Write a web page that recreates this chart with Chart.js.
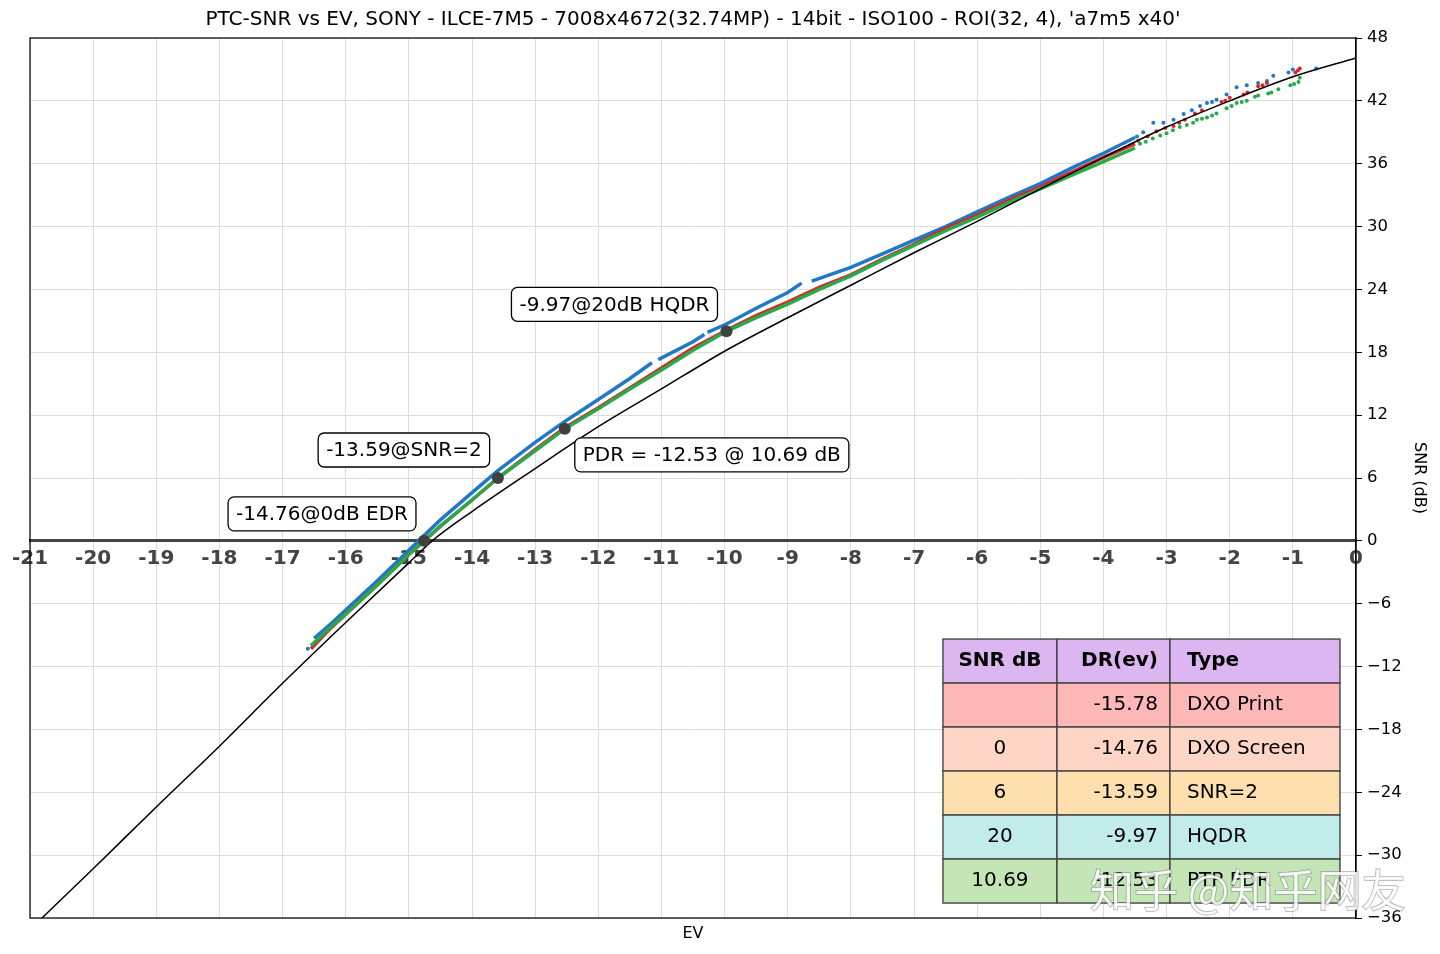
<!DOCTYPE html>
<html>
<head>
<meta charset="utf-8">
<script src="https://cdn.jsdelivr.net/npm/chart.js@4/dist/chart.umd.min.js"></script>
<style>
  html, body { margin: 0; padding: 0; background: #fff; }
  #wrap { width: 1440px; height: 954px; }
</style>
</head>
<body>
<div id="wrap"><canvas id="ptc"></canvas></div>
<script>
// model curve (black)
const modelEv  = [-21, -20, -19, -18, -17, -16, -15, -14.63, -14, -13, -12, -11, -10, -9, -8, -7, -6, -5, -4, -3, -2, -1, 0];
const modelSnr = [-37.1, -31.3, -25.4, -19.6, -13.6, -7.8, -2.1, 0, 2.8, 6.9, 10.9, 14.5, 18.1, 21.3, 24.4, 27.5, 30.5, 33.6, 36.6, 39.5, 42.0, 44.3, 46.1];

// measured channels, dense part
const greenEv  = [-16.55, -16.25, -16, -15.5, -15, -14.76, -14.5, -14, -13.59, -13, -12.53, -12, -11.5, -11, -10.5, -9.97, -9.5, -9, -8.5, -8, -7.5, -7, -6.5, -6, -5.5, -5, -4.5, -4, -3.5];
const greenSnr = [-10.0, -8.3, -7.0, -4.2, -1.3, 0, 1.4, 3.9, 6.0, 8.6, 10.69, 12.6, 14.5, 16.3, 18.2, 20.0, 21.3, 22.6, 24.0, 25.3, 26.8, 28.2, 29.6, 30.9, 32.3, 33.6, 34.9, 36.2, 37.5];
const redSnr   = [-10.3, -8.4, -7.0, -4.2, -1.3, 0, 1.4, 3.9, 6.0, 8.7, 10.8, 12.7, 14.6, 16.5, 18.4, 20.1, 21.5, 22.8, 24.2, 25.4, 26.9, 28.3, 29.8, 31.1, 32.5, 33.8, 35.2, 36.6, 37.9];
const blueEv   = [-16.5, -16.25, -16, -15.5, -15, -14.76, -14.5, -14, -13.59, -13, -12.53, -12, -11.5, -11.15, -11.1, -11.05, -10.5, -10.32, -10.3, -10.27, -9.97, -9.5, -9, -8.78, -8.7, -8.62, -8, -7.5, -7, -6.5, -6, -5.5, -5, -4.5, -4, -3.5];
const blueSnr  = [-9.3, -8.0, -6.6, -3.8, -0.9, 0.5, 2.0, 4.6, 6.7, 9.4, 11.4, 13.5, 15.5, 17.0, null, 17.3, 19.0, 19.7, null, 19.9, 20.7, 22.2, 23.7, 24.6, null, 24.8, 26.1, 27.4, 28.7, 30.0, 31.4, 32.8, 34.1, 35.6, 37.0, 38.5];

// measured channels, sparse dots at the top end
const greenDotEv  = [-3.42, -3.33, -3.22, -3.1, -3.0, -2.9, -2.79, -2.68, -2.58, -2.52, -2.44, -2.36, -2.28, -2.21, -2.05, -1.97, -1.89, -1.81, -1.73, -1.6, -1.55, -1.39, -1.34, -1.23, -1.04, -0.98, -0.91, -0.89];
const greenDotSnr = [37.9, 38.1, 38.4, 38.7, 38.9, 39.2, 39.5, 39.7, 39.9, 40.2, 40.3, 40.4, 40.6, 40.8, 41.3, 41.5, 41.8, 41.9, 42.0, 42.4, 42.5, 42.7, 42.8, 43.1, 43.5, 43.6, 43.8, 44.2];
const redDotEv    = [-3.45, -3.3, -3.16, -3.02, -2.89, -2.8, -2.71, -2.55, -2.44, -2.13, -2.07, -2.0, -1.78, -1.72, -1.55, -1.48, -1.41, -0.96, -0.92, -0.89];
const redDotSnr   = [38.2, 38.6, 39.1, 39.4, 39.6, 39.9, 40.2, 40.8, 41.1, 41.9, 42.0, 42.3, 42.6, 42.8, 43.4, 43.5, 43.7, 44.7, 44.9, 45.1];
const blueDotEv   = [-16.6, -3.47, -3.37, -3.21, -3.05, -2.89, -2.73, -2.6, -2.47, -2.36, -2.28, -2.21, -2.05, -1.89, -1.73, -1.55, -1.41, -1.31, -1.07, -1.0, -0.63];
const blueDotSnr  = [-10.3, 38.6, 39.0, 39.9, 39.9, 40.2, 40.75, 41.1, 41.5, 41.8, 41.9, 42.1, 42.6, 43.3, 43.5, 43.7, 43.9, 44.4, 44.7, 45.0, 45.1];

// marked points
const markerEv     = [-14.76, -13.59, -12.53, -9.97];
const markerSnr    = [0, 6, 10.69, 20];
const markerLabels = ['-14.76@0dB EDR', '-13.59@SNR=2', 'PDR = -12.53 @ 10.69 dB', '-9.97@20dB HQDR'];
const labelOffsets = [[-102, -27], [-94, -28], [147, 26], [-112, -27]];   // px, box centre from point

// table
const tableHead = ['SNR dB', 'DR(ev)', 'Type'];
const tableSnr  = ['', '0', '6', '20', '10.69'];
const tableDr   = ['-15.78', '-14.76', '-13.59', '-9.97', '-12.53'];
const tableType = ['DXO Print', 'DXO Screen', 'SNR=2', 'HQDR', 'PTP PDR'];
const rowColors = ['#dcb6f0', '#ffb8b8', '#ffd6c6', '#fde0ae', '#c2ecea', '#c4e6b6'];

const titleText = "PTC-SNR vs EV, SONY - ILCE-7M5 - 7008x4672(32.74MP) - 14bit - ISO100 - ROI(32, 4), 'a7m5 x40'";

const pts = (xs, ys) => xs.map((x, i) => ({ x: x, y: ys[i] }));

Chart.defaults.font.family = '"DejaVu Sans", sans-serif';
Chart.defaults.color = '#000';

const overlay = {
    id: 'overlay',
    afterDatasetsDraw(chart) {
        const { ctx, chartArea: a, scales: { x, y } } = chart;
        ctx.save();

        // marker annotations
        ctx.font = '20px "DejaVu Sans"';
        ctx.textAlign = 'center';
        ctx.textBaseline = 'middle';
        markerLabels.forEach((t, i) => {
            const cx = x.getPixelForValue(markerEv[i]) + labelOffsets[i][0];
            const cy = y.getPixelForValue(markerSnr[i]) + labelOffsets[i][1];
            const w = ctx.measureText(t).width + 16, h = 34;
            ctx.beginPath();
            ctx.roundRect(cx - w / 2, cy - h / 2, w, h, 6);
            ctx.fillStyle = '#fff';
            ctx.fill();
            ctx.lineWidth = 1.3;
            ctx.strokeStyle = '#000';
            ctx.stroke();
            ctx.fillStyle = '#000';
            ctx.fillText(t, cx, cy + 1);
        });

        // table (matplotlib style, placed in axes fractions)
        const W = a.right - a.left, H = a.bottom - a.top;
        const colX = [0.6885, 0.7745, 0.8597, 0.9879].map(f => a.left + f * W);
        const top = a.top + 0.683 * H, rowH = 0.05 * H;
        const rows = [tableHead].concat(tableDr.map((d, i) => [tableSnr[i], d, tableType[i]]));
        rows.forEach((r, ri) => {
            const ry = top + ri * rowH;
            for (let c = 0; c < 3; c++) {
                ctx.fillStyle = rowColors[ri];
                ctx.fillRect(colX[c], ry, colX[c + 1] - colX[c], rowH);
                ctx.strokeStyle = '#444';
                ctx.lineWidth = 1.4;
                ctx.strokeRect(colX[c], ry, colX[c + 1] - colX[c], rowH);
            }
            ctx.fillStyle = '#000';
            ctx.font = (ri === 0 ? 'bold ' : '') + '20px "DejaVu Sans"';
            ctx.textBaseline = 'middle';
            const my = ry + rowH / 2;
            ctx.textAlign = 'center';
            ctx.fillText(r[0], (colX[0] + colX[1]) / 2, my);
            ctx.textAlign = 'right';
            ctx.fillText(r[1], colX[2] - 12, my);
            ctx.textAlign = 'left';
            ctx.fillText(r[2], colX[2] + 17, my);
        });

        // frame
        ctx.strokeStyle = '#000';
        ctx.lineWidth = 1.2;
        ctx.strokeRect(a.left, a.top, W, H);
        ctx.restore();
    },
    afterDraw(chart) {
        // site watermark
        const { ctx } = chart;
        ctx.save();
        ctx.font = '44px "Noto Sans CJK SC"';
        ctx.textAlign = 'left';
        ctx.textBaseline = 'middle';
        ctx.lineWidth = 1.5;
        ctx.strokeStyle = 'rgba(110,110,110,0.55)';
        ctx.strokeText('知乎 @知乎网友', 1090, 890);
        ctx.fillStyle = 'rgba(255,255,255,0.85)';
        ctx.fillText('知乎 @知乎网友', 1090, 890);
        ctx.restore();
    }
};

new Chart(document.getElementById('ptc'), {
    type: 'scatter',
    data: {
        datasets: [
            {
                data: pts(markerEv, markerSnr),
                backgroundColor: '#404040', borderWidth: 0, pointRadius: 6
            },
            {
                data: pts(modelEv, modelSnr), showLine: true,
                borderColor: '#000', borderWidth: 1.5, pointRadius: 0, cubicInterpolationMode: 'monotone'
            },
            {
                data: pts(greenEv, greenSnr), showLine: true,
                borderColor: '#2ba84a', borderWidth: 3.5, pointRadius: 0
            },
            {
                data: pts(greenDotEv, greenDotSnr),
                backgroundColor: '#2ba84a', borderWidth: 0, pointRadius: 2
            },
            {
                data: pts(greenEv, redSnr), showLine: true,
                borderColor: '#d62728', borderWidth: 3.5, pointRadius: 0
            },
            {
                data: pts(redDotEv, redDotSnr),
                backgroundColor: '#d62728', borderWidth: 0, pointRadius: 2
            },
            {
                data: pts(blueEv, blueSnr), showLine: true, spanGaps: false,
                borderColor: '#1f78c8', borderWidth: 3.5, pointRadius: 0
            },
            {
                data: pts(blueDotEv, blueDotSnr),
                backgroundColor: '#1f78c8', borderWidth: 0, pointRadius: 2
            }
        ]
    },
    options: {
        responsive: true,
        maintainAspectRatio: false,
        devicePixelRatio: 1,
        animation: false,
        layout: { padding: { left: 30, right: 0, top: 0, bottom: 0 } },
        plugins: {
            legend: { display: false },
            tooltip: { enabled: false },
            title: {
                display: true, text: titleText, color: '#000', fullSize: false,
                font: { size: 20, weight: 'normal' },
                padding: { top: 8, bottom: 6 }
            }
        },
        scales: {
            x: {
                type: 'linear', min: -21, max: 0,
                position: { y: 0 },
                grid: { color: '#dcdcdc', drawTicks: false },
                border: { color: '#444', width: 3 },
                ticks: {
                    stepSize: 1, autoSkip: false, maxRotation: 0, padding: 6,
                    color: '#444', font: { size: 20, weight: 'bold' },
                    callback: v => String(v)
                }
            },
            x2: {
                type: 'linear', min: -21, max: 0, position: 'bottom',
                grid: { display: false },
                border: { display: false },
                ticks: { display: false },
                title: { display: true, text: 'EV', font: { size: 16 }, padding: { top: 0, bottom: 11 } },
                afterFit: s => { s.height = 36; }
            },
            y: {
                type: 'linear', min: -36, max: 48, position: 'right',
                grid: { color: '#dcdcdc', tickLength: 6, tickColor: '#000' },
                border: { color: '#000', width: 1.2 },
                ticks: {
                    stepSize: 6, padding: 5, font: { size: 16.5 }, color: '#000',
                    callback: v => (v < 0 ? '\u2212' + (-v) : String(v))
                },
                title: { display: true, text: 'SNR (dB)', font: { size: 16 }, padding: { top: 11, bottom: 0 } },
                afterFit: s => { s.width = 84; }
            }
        }
    },
    plugins: [overlay]
});
</script>
</body>
</html>
